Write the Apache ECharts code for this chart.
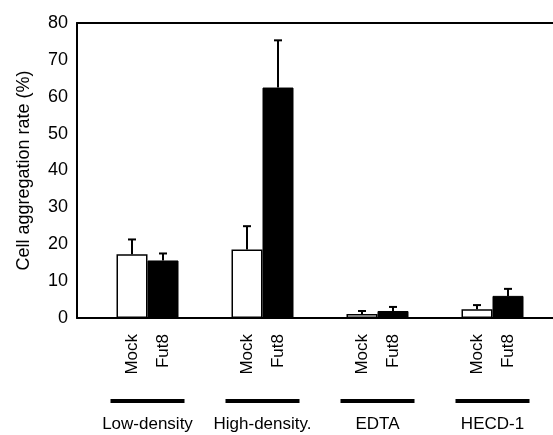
<!DOCTYPE html>
<html><head><meta charset="utf-8">
<script src="https://cdn.jsdelivr.net/npm/echarts@6/dist/echarts.min.js"></script>
<style>html,body{margin:0;padding:0;background:#fff}#c{width:553px;height:435px}</style>
</head><body><div id="c"></div>
<script>
const groups = ['Low-density', 'High-density.', 'EDTA', 'HECD-1'];
const seriesNames = ['Mock', 'Fut8'];
const mockValues = [17.3, 18.6, 1.1, 2.4];
const fut8Values = [15.6, 62.5, 1.9, 6.0];
const mockErr = [4.0, 6.3, 0.8, 1.1];
const fut8Err = [1.9, 12.8, 1.1, 1.9];
const yMin = 0, yMax = 80, yStep = 10;
const yTitle = 'Cell aggregation rate (%)';

const FONT = 'Liberation Sans, Arial, sans-serif';
const BAR_W = 31;
const chart = echarts.init(document.getElementById('c'), null, {renderer: 'canvas'});

function errSeries(vals, errs, off) {
  return {
    type: 'custom', xAxisIndex: 1, yAxisIndex: 1, z: 5,
    data: vals.map((v, i) => [i, v, errs[i]]),
    renderItem: function (params, api) {
      const i = api.value(0), v = api.value(1), e = api.value(2);
      const p0 = api.coord([i, v]);
      const p1 = api.coord([i, v + e]);
      const x = p0[0] + off;
      return {
        type: 'group', children: [
          {type: 'line', shape: {x1: x, y1: p0[1], x2: x, y2: p1[1]}, style: {stroke: '#000', lineWidth: 2}},
          {type: 'line', shape: {x1: x - 4, y1: p1[1], x2: x + 4, y2: p1[1]}, style: {stroke: '#000', lineWidth: 2}}
        ]
      };
    }
  };
}

const barLabel = {
  show: true, position: 'bottom', distance: 16, rotate: 90,
  align: 'right', verticalAlign: 'middle',
  fontFamily: FONT, fontSize: 17, color: '#000',
  formatter: p => p.seriesName
};
const frameLine = {show: true, onZero: false, lineStyle: {color: '#000', width: 2}};

chart.setOption({
  animation: false,
  grid: [
    {left: 77, right: 0, top: 23, bottom: 117},
    {left: 90, width: 460, top: 23, bottom: 117}
  ],
  xAxis: [
    {gridIndex: 0, type: 'value', min: 0, max: 1, position: 'bottom',
     axisLine: frameLine, axisTick: {show: false}, axisLabel: {show: false}, splitLine: {show: false}},
    {gridIndex: 1, type: 'category', data: groups,
     axisLine: {show: false}, axisTick: {show: false},
     axisLabel: {
       interval: 0, margin: 81,
       formatter: v => '{bar|}\n{name|' + v + '}',
       rich: {
         bar: {backgroundColor: '#000', width: 74, height: 4, lineHeight: 4},
         name: {fontFamily: FONT, fontSize: 17, color: '#000', lineHeight: 42}
       }
     }},
    {gridIndex: 0, type: 'value', min: 0, max: 1, position: 'top',
     axisLine: frameLine, axisTick: {show: false}, axisLabel: {show: false}, splitLine: {show: false}}
  ],
  yAxis: [
    {gridIndex: 0, type: 'value', min: yMin, max: yMax, interval: yStep,
     name: yTitle, nameLocation: 'middle', nameGap: 44,
     nameTextStyle: {fontFamily: FONT, fontSize: 18, color: '#000'},
     axisLine: frameLine, axisTick: {show: false}, splitLine: {show: false},
     axisLabel: {fontFamily: FONT, fontSize: 18, color: '#000', margin: 9}},
    {gridIndex: 1, type: 'value', min: yMin, max: yMax, show: false}
  ],
  series: [
    {name: seriesNames[0], type: 'bar', xAxisIndex: 1, yAxisIndex: 1, data: mockValues,
     barWidth: BAR_W, barGap: '0%',
     itemStyle: {color: '#fff', borderColor: '#000', borderWidth: 1.5}, label: barLabel},
    {name: seriesNames[1], type: 'bar', xAxisIndex: 1, yAxisIndex: 1, data: fut8Values,
     barWidth: BAR_W, barGap: '0%',
     itemStyle: {color: '#000', borderColor: '#000', borderWidth: 1}, label: barLabel},
    errSeries(mockValues, mockErr, -BAR_W / 2),
    errSeries(fut8Values, fut8Err, BAR_W / 2)
  ]
});
</script></body></html>
